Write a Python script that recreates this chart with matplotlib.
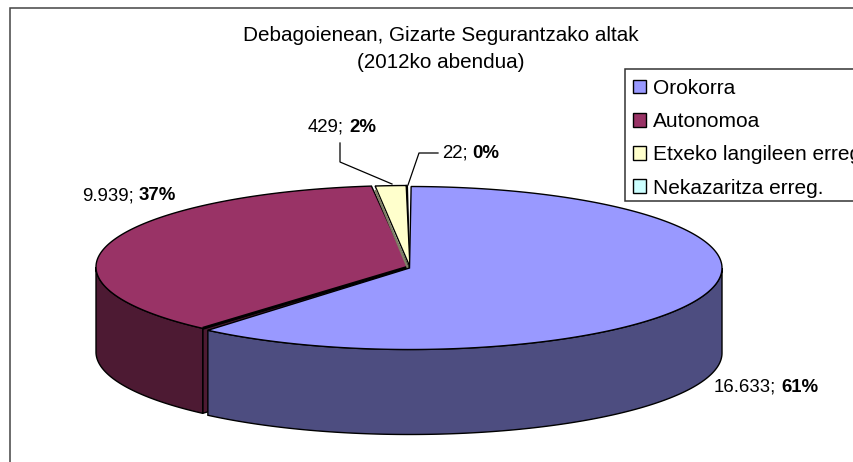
import numpy as np
import matplotlib
matplotlib.use("Agg")
import matplotlib.pyplot as plt
from matplotlib.patches import Polygon, Patch, Rectangle

plt.rcParams['font.family'] = ['Liberation Sans', 'DejaVu Sans']

title = "Debagoienean, Gizarte Segurantzako altak\n(2012ko abendua)"
categories = ["Orokorra", "Autonomoa", "Etxeko langileen erreg.", "Nekazaritza erreg."]
values = [16633, 9939, 429, 22]
value_labels = ["16.633;", "9.939;", "429;", "22;"]
pct_labels = ["61%", "37%", "2%", "0%"]
top_colors = ["#9999FF", "#993366", "#FFFFCC", "#CCFFFF"]
side_colors = ["#4D4D80", "#4D1A33", "#808066", "#668080"]

W, H = 854, 462
CX, CY, RX, RY, DEPTH = 408.5, 267, 312.5, 81.5, 85
ROT = -0.4
offsets = [(1, 1), (0, 0), (1.5, 0), (1, 0)]
trim = [(0.7, 1.0), (0, 0.4), (0, 0), (0, 0)]
label_pos = [(714, 387), (82, 196), (308, 127), (442, 153)]

fig = plt.figure(figsize=(W / 100, H / 100), dpi=100)
ax = fig.add_axes([0, 0, 1, 1])
ax.set_xlim(0, W)
ax.set_ylim(H, 0)
ax.axis("off")

ax.add_patch(Rectangle((10, 8), W, H, fc="white", ec="#444444", lw=1.1, zorder=0))


def rim(theta, off):
    t = np.radians(theta)
    return np.column_stack([CX + off[0] + RX * np.sin(t), CY + off[1] - RY * np.cos(t)])


total = sum(values)
angles = np.concatenate([[0], np.cumsum(values) / total * 360]) + ROT
LW = 1.0

order = [3, 2, 1, 0]
for i in order:
    a0, a1 = angles[i] + trim[i][0], angles[i + 1] - trim[i][1]
    off = offsets[i]
    apex = np.array([CX + off[0], CY + off[1]])
    if i == 1:
        corner = rim(a0, off)[0]
        ax.add_patch(Polygon([corner, apex, apex + [0, DEPTH], corner + [0, DEPTH]],
                             fc=side_colors[i], ec="black", lw=LW, zorder=2))
    lo, hi = max(a0, 90), min(a1, 270)
    if hi > lo:
        th = np.linspace(lo, hi, 200)
        arc = rim(th, off)
        low = arc + [0, DEPTH]
        ax.add_patch(Polygon(np.vstack([arc, low[::-1]]), fc=side_colors[i], ec="black",
                             lw=LW, zorder=3 if i == 1 else 4))

for i in order:
    a0, a1 = angles[i] + trim[i][0], angles[i + 1] - trim[i][1]
    off = offsets[i]
    apex = np.array([[CX + off[0], CY + off[1]]])
    arc = rim(np.linspace(a0, a1, 300), off)
    ax.add_patch(Polygon(np.vstack([apex, arc]), fc=top_colors[i], ec="black", lw=LW,
                         joinstyle="miter", zorder=5 + (i == 0)))

# heavy seam between the two large slices
seam = np.vstack([rim(angles[1] + trim[1][0], offsets[1]), [[CX, CY]]])
ax.plot(seam[:, 0], seam[:, 1], color="black", lw=2.2, zorder=5.5, solid_capstyle="butt")

# olive cut face of the small slice against its neighbour
edge = np.vstack([[CX - 1, CY], rim(angles[2] + 0.2, (1, 5))])
ax.plot(edge[:, 0], edge[:, 1], color="#808066", lw=1.6, zorder=5.5)

# leader lines
ax.plot([340, 340, 392], [143, 162, 184], color="black", lw=0.9, zorder=7)
ax.plot([438, 419, 408], [153, 153, 185], color="black", lw=0.9, zorder=7)

# title
ax.text(441, 49, title, ha="center", va="center", fontsize=14.9, color="black", linespacing=1.55)

# data labels: regular value followed by bold percentage
fig.canvas.draw()
renderer = fig.canvas.get_renderer()
for (x, y), v, p in zip(label_pos, value_labels, pct_labels):
    t = ax.text(x, y, v, ha="left", va="center", fontsize=13.4, color="black")
    bb = t.get_window_extent(renderer)
    ax.text(bb.x1 + 5, y, p, ha="left", va="center", fontsize=13.4, fontweight="bold", color="black")

# legend frame, running off the right edge as in the source
ax.add_patch(Rectangle((625, 69), W, 132, fc="white", ec="#333333", lw=1.1, zorder=7.5))
handles = [Patch(fc=c, ec="black", lw=LW) for c in top_colors]
leg = ax.legend(handles, categories, loc="upper left",
                bbox_to_anchor=(633 / W, 1 - 79 / H), bbox_transform=ax.transAxes,
                fontsize=15, frameon=False, borderaxespad=0, borderpad=0, labelspacing=0.68,
                handlelength=0.62, handleheight=0.62, handletextpad=0.36)
leg.set_zorder(8)

fig.savefig("out.png", dpi=100)
